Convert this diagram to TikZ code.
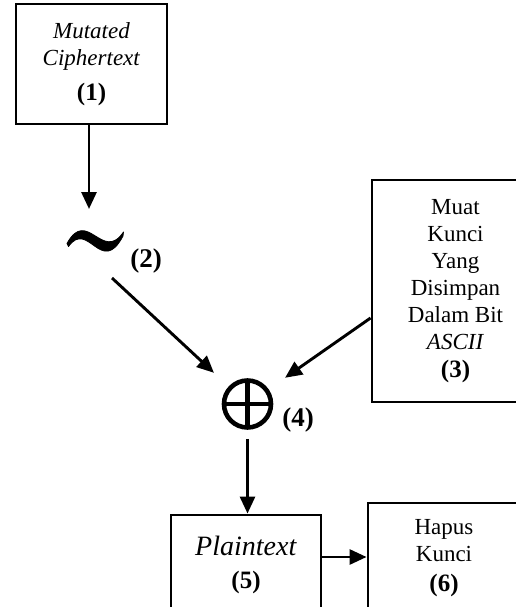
\documentclass[tikz,border=0pt]{standalone}
\usepackage{fontspec}
\setmainfont{Liberation Serif}
\usetikzlibrary{arrows.meta}
\begin{document}
\begin{tikzpicture}[x=1pt,y=-1pt,
  box/.style={draw, line width=2.9pt, rectangle, inner sep=0pt, align=center,
    font=\fontsize{23}{27}\selectfont},
  arr/.style={line width=2.9pt, -{Triangle[length=17pt,width=15pt]}},
  lbl/.style={font=\fontsize{27}{29}\selectfont\bfseries, inner sep=0pt},
  xorop/.style={circle, draw, line width=4.6pt, minimum size=47pt, inner sep=0pt,
    path picture={\draw[line width=4.6pt]
      (path picture bounding box.north) -- (path picture bounding box.south)
      (path picture bounding box.west) -- (path picture bounding box.east);}},
]
\useasboundingbox (0,0) rectangle (516,607);
\clip (0,0) rectangle (516,607);
\fill[white] (0,0) rectangle (516,607);

% input block
\node[box, minimum width=151pt, minimum height=120pt] (b1) at (91.5,64)
  {\fontsize{23}{31}\selectfont\textit{Mutated}\\\textit{Ciphertext}\\[8pt]{\fontsize{25}{27}\selectfont\bfseries(1)}};

% NOT operator, drawn as a tapered tilde
\coordinate (tl) at (95,239);
\coordinate (tin) at (89,209);
\coordinate (tout) at (112,278);
\filldraw[line width=0.8pt, line join=round]
  (67,243.5) .. controls (87,207) and (102.5,263) .. (123.5,232)
  -- (123,236) .. controls (101.5,277) and (88,219) .. (68.5,246.5) -- cycle;
\node[lbl] (l2) at (146,261) {(2)};

% key block
\node[box, minimum width=167pt, minimum height=222pt] (b3) at (455.5,291)
  {\fontsize{23}{26.8}\selectfont Muat\\Kunci\\Yang\\Disimpan\\Dalam Bit\\\textit{ASCII}\\[1pt]{\fontsize{25}{27}\selectfont\bfseries(3)}};

% XOR operator
\node[xorop] (xo) at (247.5,404) {};
\node[lbl] (l4) at (298,420) {(4)};

% output blocks
\node[box, minimum width=150pt, minimum height=100pt] (b5) at (246,565)
  {\fontsize{28}{30}\selectfont\textit{Plaintext}\\[6pt]{\fontsize{25}{27}\selectfont\bfseries(5)}};
\node[box, minimum width=152pt, minimum height=111pt] (b6) at (444,558.5)
  {Hapus\\Kunci\\[3pt]{\fontsize{25}{27}\selectfont\bfseries(6)}};

% connectors
\draw[arr] (tin |- b1.south) -- (tin);
\draw[arr, shorten >=20pt] (tout) -- (xo);
\draw[arr, shorten >=20pt] ([yshift=-27pt]b3.west) -- (xo);
\draw[arr, shorten <=9pt] (xo.south) -- (xo.south |- b5.north);
\draw[arr] ([yshift=8pt]b5.east) -- ([yshift=8pt]b5.east -| b6.west);
\end{tikzpicture}
\end{document}
